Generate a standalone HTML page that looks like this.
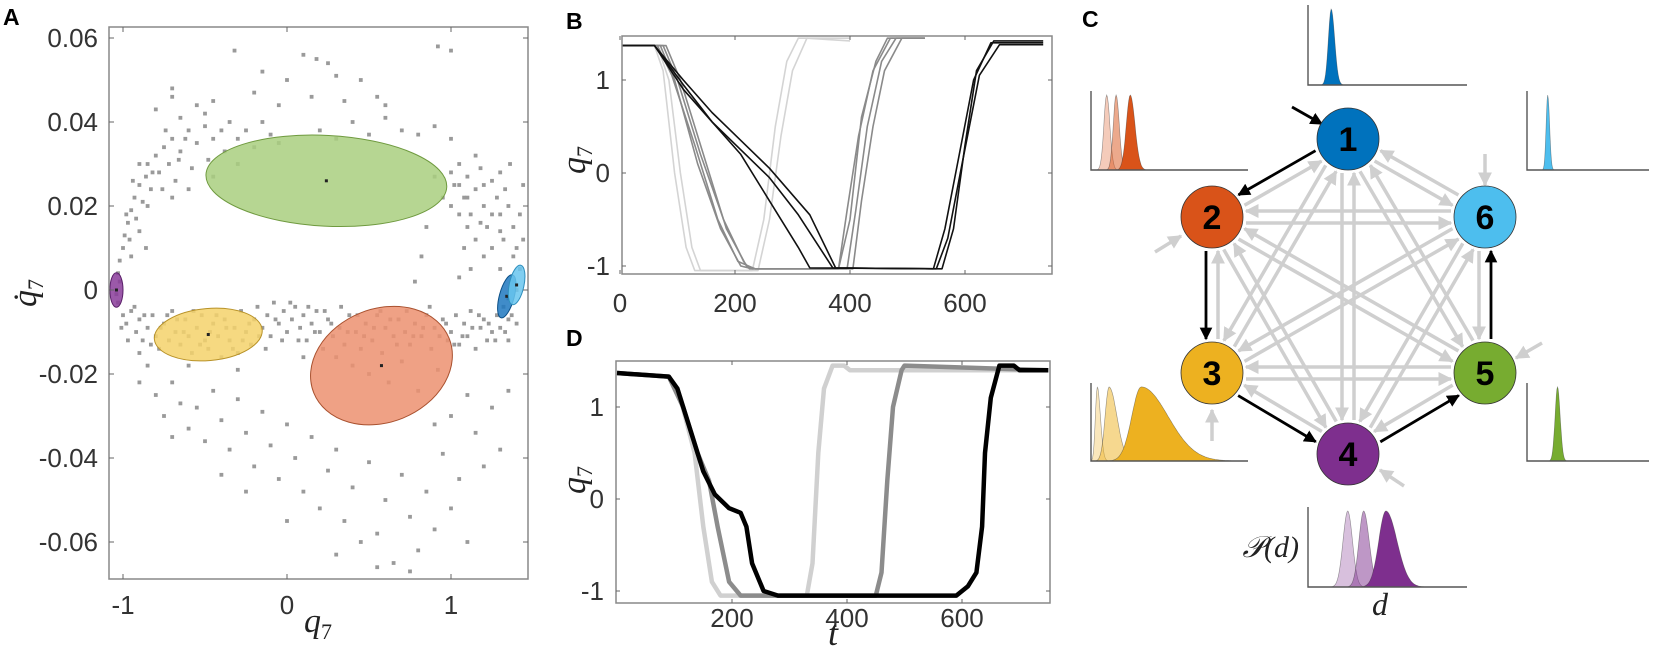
<!DOCTYPE html>
<html><head><meta charset="utf-8"><style>
html,body{margin:0;padding:0;background:#fff;}
svg{display:block;font-family:"Liberation Sans",sans-serif;}
.tk{font-size:26px;fill:#333;}
.ml{font-family:"Liberation Serif",serif;font-style:italic;fill:#222;}
.pl{font-weight:bold;font-size:23px;fill:#000;}
</style></head><body>
<svg id="fig" width="1654" height="652" viewBox="0 0 1654 652">
<defs>
<marker id="ag" viewBox="0 0 10 10" refX="9" refY="5" markerWidth="4" markerHeight="4" orient="auto"><path d="M0,0L10,5L0,10z" fill="#cfcfcf"/></marker>
<marker id="ab" viewBox="0 0 10 10" refX="9" refY="5" markerWidth="4.5" markerHeight="4.5" orient="auto"><path d="M0,0L10,5L0,10z" fill="#000"/></marker>
</defs>
<g id="pA"></g>
<g id="pB"></g>
<g id="pD"></g>
<g id="pC"></g>
</svg>
<script>
const NS="http://www.w3.org/2000/svg";
function mk(tag,attrs,parent,text){const e=document.createElementNS(NS,tag);for(const k in attrs)e.setAttribute(k,attrs[k]);if(text!==undefined)e.textContent=text;parent.appendChild(e);return e;}

// ---------- Panel A data ----------
const scatterQ=[-1.03,-1.0,-0.98,-0.95,-0.92,-0.9,-0.88,-0.85,-0.82,-0.8,-0.78,-0.75,-0.72,-0.7,-0.68,-0.65,-0.62,-0.6,-0.58,-0.55,-0.52,-0.5,-0.48,-0.45,-0.42,-0.4,-0.38,-0.35,-0.32,-0.3,-0.28,-0.25,-0.22,-0.2,-0.18,-0.15,-0.12,-0.1,-0.08,-0.05,-0.02,0,0.03,0.05,0.08,0.1,0.12,0.15,0.18,0.2,0.22,0.25,0.28,0.3,0.32,0.35,0.38,0.4,0.42,0.45,0.48,0.5,0.52,0.55,0.58,0.6,0.62,0.65,0.68,0.7,0.72,0.75,0.78,0.8,0.82,0.85,0.88,0.9,0.92,0.95,0.98,1.0,1.03,1.05,1.08,1.1,1.12,1.15,1.18,1.2,1.22,1.25,1.28,1.3,1.32,1.35,-0.6,-0.3,0.1,-0.9,-1.02,-1.04,
-1.03,-1.02,-1.0,-0.99,-0.97,-0.96,-0.95,-0.93,-0.92,-0.9,-0.88,-0.86,-0.85,-0.83,-0.8,-0.78,-0.75,-0.72,-0.7,-0.68,-0.65,-0.6,-0.58,-0.55,-0.5,-0.48,-0.45,-0.4,-0.38,-0.35,-0.3,-0.25,-0.2,-0.15,-0.1,-0.05,0.2,0.3,0.4,0.5,0.6,0.7,0.8,0.9,1.0,-0.95,-0.85,-0.7,-0.6,-0.45,-0.3,-0.9,-0.8,-0.7,-0.65,-0.55,-0.45,
1.0,1.02,1.05,1.08,1.1,1.12,1.15,1.18,1.2,1.22,1.25,1.28,1.3,1.32,1.35,1.38,1.4,1.42,1.38,1.35,1.3,1.25,1.2,1.15,1.1,1.05,1.08,1.12,1.0,0.95,0.9,1.15,1.3,1.42,1.44,1.36,1.05,0.85,0.82,0.78,1.4,1.35,
-0.32,-0.15,0.1,0.18,0.25,0.3,-0.2,0.0,0.35,0.45,0.55,-0.05,0.15,0.6,1.0,0.92,-0.7,-0.5,
-0.8,-0.75,-0.7,-0.65,-0.6,-0.55,-0.5,-0.45,-0.4,-0.35,-0.3,-0.25,-0.2,-0.15,-0.1,-0.05,0,0.05,0.1,0.15,0.2,0.25,0.3,0.35,0.4,0.45,0.5,0.55,0.6,0.65,0.7,0.75,0.8,0.85,0.9,0.95,1.0,1.05,1.1,1.15,1.2,1.25,1.3,1.35,1.1,1.0,0.9,-0.25,-0.4,0.0,0.3,0.55,0.75,-0.7,-0.85,-0.9,
-1.01,-0.97,-0.93,-0.87,-0.83,-0.77,-0.73,-0.67,-0.63,-0.57,-0.53,-0.47,-0.43,-0.37,-0.33,-0.27,-0.23,-0.17,-0.13,-0.07,-0.03,0.02,0.07,0.13,0.17,0.23,0.27,0.33,0.37,0.43,0.47,0.53,0.57,0.63,0.67,0.73,0.77,0.83,0.87,0.93,0.97,1.02,1.07,1.13,1.17,1.23,1.27,1.33,1.37,1.3,1.25,1.33,1.2,1.1,1.05,1.38,1.4,1.44,1.18,-0.98,-0.94,-0.9,-0.86,-0.82,-0.76,-0.74,-0.66,-0.62];
const scatterQd=[-3,-6,-8,-5,-10,-7,-12,-9,-6,-11,-14,-8,-12,-5,-10,-13,-7,-11,-15,-9,-6,-12,-14,-8,-11,-16,-7,-12,-9,-15,-5,-10,-13,-7,-4,-9,-6,-11,-3,-8,-5,-10,-7,-4,-9,-6,-12,-8,-5,-10,-14,-7,-11,-16,-9,-13,-6,-18,-10,-14,-8,-20,-12,-6,-15,-9,-22,-11,-7,-17,-10,-13,-8,-24,-11,-6,-14,-9,-19,-7,-12,-10,-6,-13,-8,-11,-5,-14,-9,-7,-12,-10,-6,-9,-4,-7,-18,-19,-16,-15,2,-1,
4,7,10,13,16,12,19,22,17,25,21,27,30,24,32,28,34,30,36,26,33,38,29,35,39,31,36,38,33,40,36,38,34,40,37,35,38,36,40,37,41,38,37,39,36,8,20,22,24,27,30,30,43,46,41,44,45,
28,25,30,22,27,18,24,29,20,15,26,22,18,12,20,15,10,5,2,-2,5,10,8,12,15,18,10,5,20,22,27,32,28,18,25,30,3,15,8,2,-8,-12,
57,52,56,55,54,51,47,50,45,50,46,44,46,44,57,58,48,42,
-25,-30,-22,-27,-33,-28,-36,-24,-31,-38,-26,-34,-42,-29,-37,-45,-32,-40,-48,-35,-52,-43,-38,-55,-47,-60,-41,-58,-50,-65,-44,-54,-62,-48,-57,-39,-52,-45,-60,-34,-42,-28,-38,-24,-25,-30,-32,-48,-44,-55,-63,-66,-67,-35,-18,-22,
-9,-12,-4,-6,-13,-9,-6,-7,-10,-5,-13,-10,-6,-9,-14,-12,-8,-11,-14,-7,-12,-3,-12,-4,-10,-5,-8,-4,-10,-6,-11,-9,-5,-7,-13,-5,-11,-9,-4,-11,-8,-13,-11,-9,-6,-8,-12,-10,-6,14,18,24,25,22,25,8,0,12,16,18,26,14,10,28,24,38,31,36];
const clusterNames=['green','yellow','orange','purple','blue','lightblue'];
const clusterCx=[0.24,-0.48,0.576,-1.04,1.34,1.40];
const clusterCy=[0.026,-0.0106,-0.018,0.0,-0.0015,0.0012];
const clusterRx=[0.735,0.33,0.445,0.04,0.045,0.045];
const clusterRy=[0.0108,0.0062,0.0135,0.0041,0.0053,0.0048];
const clusterRot=[3,-5,-22,0,15,12];
const clusterFill=['#a9cf7f','#f4d26b','#ec9070','#8a3c9a','#1f78c0','#68c6ee'];
const clusterStroke=['#6f9a3f','#b89228','#a9512f','#5a1f69','#0b4f86','#2f8fbd'];
const aXTicks=[-1,0,1];
const aYTicks=[0.06,0.04,0.02,0,-0.02,-0.04,-0.06];
const aYTickLabels=['0.06','0.04','0.02','0','-0.02','-0.04','-0.06'];

// ---------- Panel B data ----------
const bTicksX=[0,200,400,600];
const bTicksY=[1,0,-1];
const bColors=['#d4d4d4','#d4d4d4','#8a8a8a','#8a8a8a','#8a8a8a','#8a8a8a','#111','#111','#111'];
const bT=[
[0,60,75,95,115,130,230,250,270,290,310,400],
[0,65,85,105,125,140,240,260,280,300,325,400],
[0,75,100,140,180,215,225,380,400,420,445,465,530],
[0,70,95,135,175,210,230,395,410,430,455,480,530],
[0,65,90,130,170,205,235,405,420,440,460,490,530],
[0,80,105,145,185,220,235,380,395,415,440,470,530],
[0,60,110,160,210,260,310,330,560,580,600,620,650,736],
[0,60,110,160,210,260,310,370,545,565,590,615,645,736],
[0,60,110,160,210,260,330,375,550,570,595,625,660,736]];
const bQ=[
[1.37,1.37,1.1,0.0,-0.8,-1.05,-1.05,-0.5,0.5,1.2,1.45,1.45],
[1.37,1.37,1.0,0.0,-0.8,-1.05,-1.05,-0.5,0.4,1.1,1.45,1.42],
[1.37,1.37,1.0,0.2,-0.5,-0.95,-1.03,-1.03,-0.5,0.6,1.2,1.45,1.45],
[1.37,1.37,1.0,0.1,-0.6,-1.0,-1.03,-1.03,-0.4,0.5,1.2,1.45,1.45],
[1.37,1.37,1.05,0.3,-0.5,-0.95,-1.03,-1.03,-0.3,0.5,1.1,1.45,1.45],
[1.37,1.37,1.0,0.2,-0.6,-1.0,-1.03,-1.03,-0.4,0.4,1.1,1.45,1.45],
[1.37,1.37,0.9,0.55,0.2,-0.3,-0.8,-1.02,-1.03,-0.6,0.3,1.1,1.42,1.42],
[1.37,1.37,0.95,0.55,0.25,-0.05,-0.45,-1.02,-1.03,-0.6,0.2,1.0,1.40,1.40],
[1.37,1.37,1.0,0.65,0.35,0.05,-0.45,-1.02,-1.03,-0.7,0.1,1.05,1.38,1.38]];

// ---------- Panel D data ----------
const dTicksX=[200,400,600];
const dTicksY=[1,0,-1];
const dColors=['#d0d0d0','#8c8c8c','#000'];
const dT=[
[0,90,110,135,150,165,180,330,340,350,360,375,395,405,750],
[0,90,115,140,160,175,195,215,450,460,470,480,495,500,750],
[0,90,105,130,150,170,195,215,225,235,255,280,590,610,625,635,640,650,665,690,700,750]];
const dQ=[
[1.37,1.33,1.1,0.5,-0.3,-0.9,-1.05,-1.05,-0.7,0.5,1.2,1.45,1.45,1.4,1.4],
[1.37,1.33,1.0,0.5,0.2,-0.3,-0.9,-1.05,-1.05,-0.8,0.2,1.0,1.4,1.45,1.4],
[1.37,1.33,1.2,0.7,0.3,0.05,-0.1,-0.15,-0.3,-0.7,-1.0,-1.05,-1.05,-0.95,-0.8,-0.3,0.5,1.1,1.45,1.45,1.4,1.4]];

// ---------- Panel C data ----------
const nodeLabels=['1','2','3','4','5','6'];
const nodeColors=['#0072bd','#d95319','#edb120','#7e2f8e','#77ac30','#4dbeee'];
const nodeX=[1348,1212,1212,1348,1485,1485];
const nodeY=[139,217,373,454,373,217];
const cycleFrom=[0,1,2,3,4];
const cycleTo=[1,2,3,4,5];
const distMeans=[[0.146],[0.10,0.16,0.25],[0.04,0.115,0.32],[0.25,0.35,0.49],[0.25],[0.17]];
const distSdL=[[0.018],[0.018,0.018,0.025],[0.012,0.025,0.06],[0.03,0.03,0.045],[0.02],[0.013]];
const distSdR=[[0.022],[0.02,0.02,0.03],[0.02,0.05,0.17],[0.03,0.035,0.07],[0.022],[0.015]];
const distAlpha=[[1],[0.3,0.5,1],[0.3,0.5,1],[0.3,0.5,1],[1],[1]];
const miniX0=[1308,1091,1091,1308,1527,1527];
const miniW=[159,157,157,159,122,122];
const miniY0=[5,91,383,507,383,91];
const miniH=[80,79,78,80,78,79];

// ===== Draw panel A =====
(function(){
 const g=document.getElementById('pA');
 const L=109,R=528,T=27,B=579;
 const x=v=>287+v*164, y=v=>290-v*4200;
 const t=mk('text',{x:3,y:25,class:'pl'},g,'A');
 
 const pts=mk('g',{},g);
 
 for(let i=0;i<scatterQ.length;i++){
  const c=mk('rect',{x:x(scatterQ[i])-1.9,y:y(scatterQd[i]/1000)-1.9,width:3.8,height:3.8,fill:'#9a9a9a'},pts);
  
 }
 for(let i=0;i<clusterCx.length;i++){
  const cx=x(clusterCx[i]),cy=y(clusterCy[i]);
  const e=mk('ellipse',{cx:cx,cy:cy,rx:clusterRx[i]*164,ry:clusterRy[i]*4200,transform:`rotate(${clusterRot[i]} ${cx} ${cy})`,fill:clusterFill[i],'fill-opacity':0.85,stroke:clusterStroke[i],'stroke-width':1},g);
  
  mk('rect',{x:cx-1.5,y:cy-1.5,width:3,height:3,fill:'#222'},g);
 }
 const box=mk('rect',{x:L,y:T,width:R-L,height:B-T,fill:'none',stroke:'#888','stroke-width':1.5},g);
 
 aXTicks.forEach(v=>{
  mk('line',{x1:x(v),x2:x(v),y1:B,y2:B-5,stroke:'#666'},g);mk('line',{x1:x(v),x2:x(v),y1:T,y2:T+5,stroke:'#666'},g);
  const tl=mk('text',{x:x(v),y:B+35,class:'tk','text-anchor':'middle'},g,String(v));
  
 });
 aYTicks.forEach((v,i)=>{
  mk('line',{x1:L,x2:L+5,y1:y(v),y2:y(v),stroke:'#666'},g);mk('line',{x1:R,x2:R-5,y1:y(v),y2:y(v),stroke:'#666'},g);
  const tl=mk('text',{x:L-11,y:y(v)+9,class:'tk','text-anchor':'end'},g,aYTickLabels[i]);
  
 });
 const xl=mk('text',{x:318,y:632,class:'ml','font-size':34,'text-anchor':'middle'},g);
 
 xl.innerHTML='q<tspan font-size="22" dy="7" font-style="normal">7</tspan>';
 const yl=mk('text',{x:0,y:0,class:'ml','font-size':34,'text-anchor':'middle',transform:'translate(36,293) rotate(-90)'},g);
 
 yl.innerHTML='q̇<tspan font-size="22" dy="7" font-style="normal">7</tspan>';
})();

// ===== line panels =====
function linePanel(id,label,lx,ly,L,R,T,B,t0px,tscale,y0px,yscale,ticksX,ticksY,Ts,Qs,colors,width,tickOff,ylabY,showTitleT){
 const g=document.getElementById(id);
 const x=v=>t0px+v*tscale, y=v=>y0px-v*yscale;
 const lt=mk('text',{x:lx,y:ly,class:'pl'},g,label);
 
 const clip=mk('clipPath',{id:'c'+id},g);mk('rect',{x:L,y:T-3,width:R-L,height:B-T+6},clip);
 const lg=mk('g',{'clip-path':`url(#c${id})`},g);
 Ts.forEach((ts,k)=>{
  const d=ts.map((tv,i)=>(i?'L':'M')+x(tv).toFixed(1)+','+y(Qs[k][i]).toFixed(1)).join('');
  const p=mk('path',{d:d,fill:'none',stroke:colors[k],'stroke-width':width,'stroke-linejoin':'round'},lg);
  
 });
 const box=mk('rect',{x:L,y:T,width:R-L,height:B-T,fill:'none',stroke:'#888','stroke-width':1.5},g);
 
 ticksX.forEach(v=>{
  mk('line',{x1:x(v),x2:x(v),y1:B,y2:B-4,stroke:'#666'},g);mk('line',{x1:x(v),x2:x(v),y1:T,y2:T+4,stroke:'#666'},g);
  const tl=mk('text',{x:x(v),y:B+tickOff,class:'tk','text-anchor':'middle'},g,String(v));
  
 });
 ticksY.forEach(v=>{
  mk('line',{x1:L,x2:L+4,y1:y(v),y2:y(v),stroke:'#666'},g);mk('line',{x1:R,x2:R-4,y1:y(v),y2:y(v),stroke:'#666'},g);
  const tl=mk('text',{x:L-12,y:y(v)+9,class:'tk','text-anchor':'end'},g,String(v));
  
 });
 const yl=mk('text',{x:0,y:0,class:'ml','font-size':34,'text-anchor':'middle',transform:`translate(585,${ylabY}) rotate(-90)`},g);
 
 yl.innerHTML='q<tspan font-size="22" dy="7" font-style="normal">7</tspan>';
 if(showTitleT){const xt=mk('text',{x:833,y:645,class:'ml','font-size':36,'text-anchor':'middle'},g,'t');
  }
}
linePanel('pB','B',566,29,622,1052,36,274,620,0.575,173,93,bTicksX,bTicksY,bT,bQ,bColors,1.6,38,160,false);
linePanel('pD','D',566,346,616,1050,361,603,617,0.575,499,92,dTicksX,dTicksY,dT,dQ,dColors,4.5,24,480,true);

// ===== Panel C =====
(function(){
 const g=document.getElementById('pC');
 const lt=mk('text',{x:1082,y:27,class:'pl'},g,'C');
 
 const r=31;
 function arrow(i,j,off,col,mark,w){
  const dx=nodeX[j]-nodeX[i],dy=nodeY[j]-nodeY[i],len=Math.hypot(dx,dy),ux=dx/len,uy=dy/len,px=-uy*off,py=ux*off;
  const s=r+3,e=r+3;
  return mk('line',{x1:nodeX[i]+ux*s+px,y1:nodeY[i]+uy*s+py,x2:nodeX[j]-ux*e+px,y2:nodeY[j]-uy*e+py,stroke:col,'stroke-width':w,'marker-end':`url(#${mark})`},g);
 }
 for(let i=0;i<6;i++)for(let j=0;j<6;j++){if(i===j)continue;
  const isCycle=cycleFrom.some((f,k)=>f===i&&cycleTo[k]===j);
  if(isCycle)continue;
  const a=arrow(i,j,6,'#cfcfcf','ag',3.5);
  
 }
 cycleFrom.forEach((f,k)=>{const a=arrow(f,cycleTo[k],6,'#000','ab',2.8);
  });
 const entries=[[1292,107,1322,124,'#000','ab'],[1155,252,1181,236,'#cfcfcf','ag'],[1212,441,1212,410,'#cfcfcf','ag'],[1404,486,1380,470,'#cfcfcf','ag'],[1542,343,1516,358,'#cfcfcf','ag'],[1485,154,1485,185,'#cfcfcf','ag']];
 entries.forEach(e=>{const a=mk('line',{x1:e[0],y1:e[1],x2:e[2],y2:e[3],stroke:e[4],'stroke-width':e[4]==='#000'?2.8:3.5,'marker-end':`url(#${e[5]})`},g);
  });
 for(let i=0;i<6;i++){
  const c=mk('circle',{cx:nodeX[i],cy:nodeY[i],r:r,fill:nodeColors[i],stroke:'#333','stroke-width':0.8},g);
  
  const t=mk('text',{x:nodeX[i],y:nodeY[i]+12,'text-anchor':'middle','font-size':34,'font-weight':'bold',fill:'#000'},g,nodeLabels[i]);
  
 }
 for(let n=0;n<6;n++){
  const mg=mk('g',{},g);
  
  const x0=miniX0[n],w=miniW[n],y0=miniY0[n],h=miniH[n],base=y0+h;
  distMeans[n].forEach((m,k)=>{
   let d='M'+x0+','+base;
   for(let s=0;s<=200;s++){const u=s/200;const sd=u<m?distSdL[n][k]:distSdR[n][k];const v=Math.exp(-0.5*((u-m)/sd)**2);d+='L'+(x0+u*w).toFixed(1)+','+(base-v*h*0.95).toFixed(1);}
   d+='L'+(x0+w)+','+base+'Z';
   const p=mk('path',{d:d,fill:nodeColors[n],'fill-opacity':distAlpha[n][k],stroke:'#333','stroke-opacity':0.5,'stroke-width':0.6},mg);
   
  });
  mk('path',{d:`M${x0},${y0}L${x0},${base}L${x0+w},${base}`,fill:'none',stroke:'#555','stroke-width':1.4},mg);
 }
 const pl=mk('text',{x:1299,y:557,class:'ml','font-size':30,'text-anchor':'end'},g,'𝒫(d)');
 
 const dl=mk('text',{x:1380,y:615,class:'ml','font-size':32,'text-anchor':'middle'},g,'d');
 
})();
</script>
</body></html>
